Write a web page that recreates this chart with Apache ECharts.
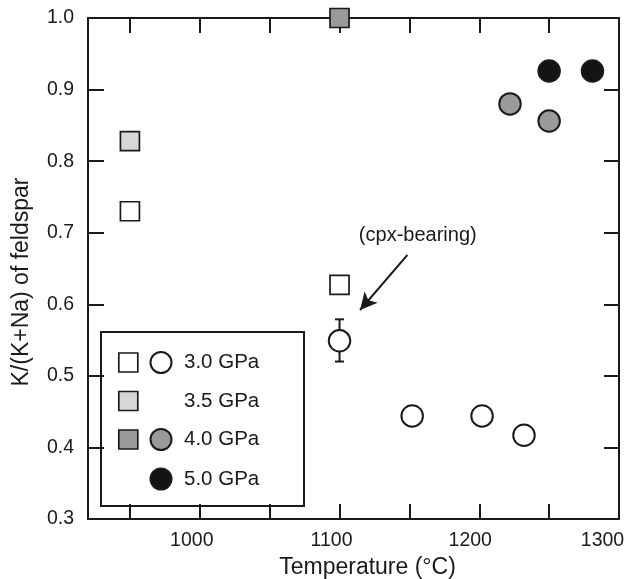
<!DOCTYPE html>
<html>
<head>
<meta charset="utf-8">
<script src="https://cdn.jsdelivr.net/npm/echarts@6/dist/echarts.min.js"></script>
<style>
  html, body { margin: 0; padding: 0; background: #fff; }
  #chart { width: 628px; height: 579px; }
</style>
</head>
<body>
<div id="chart"></div>
<script>
// Feldspar K/(K+Na) versus run temperature, by pressure
const tempTicks = [950, 1000, 1050, 1100, 1150, 1200, 1250, 1300];
const tempLabels = [1000, 1100, 1200, 1300];

// squares
const sq30 = [[950, 0.730], [1100, 0.627]];
const sq35 = [[950, 0.828]];
const sq40 = [[1100, 1.000]];
// circles
const ci30 = [[1100, 0.549], [1152, 0.444], [1202, 0.444], [1232, 0.417]];
const ci40 = [[1222, 0.880], [1250, 0.856]];
const ci50 = [[1250, 0.926], [1281, 0.926]];
// error bar: [temperature, low, high]
const errBars = [[1100, 0.520, 0.579]];

// annotation arrow (data coordinates): from, to
const arrowFrom = [1148.6, 0.669];
const arrowTo = [1114.7, 0.592];
const noteText = '(cpx-bearing)';
const notePos = [1156, 0.6955];

const legendRows = [
  { label: '3.0 GPa', square: 'p30', circle: 'p30' },
  { label: '3.5 GPa', square: 'p35', circle: null },
  { label: '4.0 GPa', square: 'p40', circle: 'p40' },
  { label: '5.0 GPa', square: null, circle: 'p50' }
];

const fill = { p30: '#ffffff', p35: '#d6d8d7', p40: '#9a9a9a', p50: '#141414' };
const ink = '#1a1a1a';
const FONT = 'Liberation Sans, Arial, Helvetica, sans-serif';

const chart = echarts.init(document.getElementById('chart'), null, { renderer: 'canvas' });

const frameLine = { show: true, onZero: false, lineStyle: { color: ink, width: 2 } };
const innerTick = { show: true, inside: true, length: 15, lineStyle: { color: ink, width: 2 } };

function squareSeries(name, data, color) {
  return {
    name, type: 'scatter', data, clip: false, z: 4,
    symbol: 'rect', symbolSize: 19,
    itemStyle: { color, borderColor: ink, borderWidth: 1.7, opacity: 1 }
  };
}
function circleSeries(name, data, color, extra) {
  return Object.assign({
    name, type: 'scatter', data, clip: false, z: 4,
    symbol: 'circle', symbolSize: 21.5,
    itemStyle: { color, borderColor: ink, borderWidth: 2, opacity: 1 }
  }, extra || {});
}

// temperature labels sit a little left of their ticks; the last one is kept inside the canvas
function tempLabel(v) {
  if (v === 1300) return '{e|' + v + '}';
  if (v === 1200) return '{m|' + v + '}';
  return '{n|' + v + '}';
}

const option = {
  animation: false,
  backgroundColor: '#ffffff',
  grid: { left: 88, right: 9, top: 18, bottom: 60, containLabel: false, outerBoundsMode: 'none' },
  xAxis: [
    {
      type: 'value', position: 'bottom', min: 920, max: 1300,
      axisLine: frameLine,
      axisTick: Object.assign({}, innerTick, { customValues: tempTicks }),
      axisLabel: {
        customValues: tempLabels, color: ink, fontSize: 19.5, fontFamily: FONT,
        margin: 12, formatter: tempLabel,
        rich: {
          n: { color: ink, fontSize: 19.5, fontFamily: FONT, padding: [0, 16, 0, 0] },
          m: { color: ink, fontSize: 19.5, fontFamily: FONT, padding: [0, 18, 0, 0] },
          e: { color: ink, fontSize: 19.5, fontFamily: FONT, padding: [0, 33, 0, 0] }
        }
      },
      splitLine: { show: false },
      name: 'Temperature (°C)', nameLocation: 'middle', nameGap: 35,
      nameTextStyle: { color: ink, fontSize: 23, fontFamily: FONT, padding: [0, 0, 0, 28] }
    },
    {
      type: 'value', position: 'top', min: 920, max: 1300,
      axisLine: frameLine,
      axisTick: Object.assign({}, innerTick, { customValues: tempTicks }),
      axisLabel: { show: false },
      splitLine: { show: false }
    }
  ],
  yAxis: [
    {
      type: 'value', position: 'left', min: 0.3, max: 1.0, interval: 0.1,
      axisLine: frameLine,
      axisTick: Object.assign({}, innerTick, { length: 16 }),
      axisLabel: {
        color: ink, fontSize: 19.5, fontFamily: FONT, margin: 14,
        formatter: v => v.toFixed(1)
      },
      splitLine: { show: false },
      name: 'K/(K+Na) of feldspar', nameLocation: 'middle', nameGap: 55, nameRotate: 90,
      nameTextStyle: { color: ink, fontSize: 23, fontFamily: FONT, padding: [0, 27, 0, 0] }
    },
    {
      type: 'value', position: 'right', min: 0.3, max: 1.0, interval: 0.1,
      axisLine: frameLine,
      axisTick: innerTick,
      axisLabel: { show: false },
      splitLine: { show: false }
    }
  ],
  series: [
    {
      name: 'error', type: 'custom', data: errBars, z: 3,
      renderItem(params, api) {
        const x = api.value(0);
        const top = api.coord([x, api.value(2)]);
        const bot = api.coord([x, api.value(1)]);
        const hw = 4.5;
        const style = { stroke: ink, lineWidth: 2 };
        return {
          type: 'group',
          children: [
            { type: 'line', shape: { x1: top[0], y1: top[1], x2: bot[0], y2: bot[1] }, style },
            { type: 'line', shape: { x1: top[0] - hw, y1: top[1], x2: top[0] + hw, y2: top[1] }, style },
            { type: 'line', shape: { x1: bot[0] - hw, y1: bot[1], x2: bot[0] + hw, y2: bot[1] }, style }
          ]
        };
      }
    },
    squareSeries('3.0 GPa', sq30, fill.p30),
    squareSeries('3.5 GPa', sq35, fill.p35),
    squareSeries('4.0 GPa', sq40, fill.p40),
    circleSeries('3.0 GPa', ci30, fill.p30, {
      markLine: {
        silent: true, animation: false,
        symbol: ['none', 'arrow'], symbolSize: [13, 17],
        lineStyle: { color: ink, width: 2, type: 'solid' },
        label: { show: false },
        data: [[
          { coord: arrowFrom, symbol: 'none' },
          { coord: arrowTo, symbol: 'arrow', symbolSize: [13, 17] }
        ]]
      },
      markPoint: {
        silent: true, animation: false,
        symbol: 'circle', symbolSize: 0,
        label: {
          show: true, position: 'inside', formatter: noteText,
          color: ink, fontSize: 20, fontFamily: FONT
        },
        data: [{ coord: notePos }]
      }
    }),
    circleSeries('4.0 GPa', ci40, fill.p40),
    circleSeries('5.0 GPa', ci50, fill.p50)
  ]
};

// legend panel: one row per pressure, square and/or circle key
const box = { x: 101, y: 332, w: 203, h: 174 };
const rowY = [362.5, 401, 439.5, 479];
const squareX = 128.3, circleX = 161, textX = 184;
const legendChildren = [{
  type: 'rect',
  shape: { x: box.x, y: box.y, width: box.w, height: box.h },
  style: { fill: '#ffffff', stroke: ink, lineWidth: 2 }
}];
legendRows.forEach((row, i) => {
  const cy = rowY[i];
  if (row.square) {
    legendChildren.push({
      type: 'rect',
      shape: { x: squareX - 9.5, y: cy - 9.5, width: 19, height: 19 },
      style: { fill: fill[row.square], stroke: ink, lineWidth: 1.7 }
    });
  }
  if (row.circle) {
    legendChildren.push({
      type: 'circle',
      shape: { cx: circleX, cy: cy, r: 10.5 },
      style: { fill: fill[row.circle], stroke: ink, lineWidth: 2 }
    });
  }
  legendChildren.push({
    type: 'text',
    style: {
      x: textX, y: cy, text: row.label, fill: ink,
      font: '20.5px ' + FONT, textAlign: 'left', textVerticalAlign: 'middle'
    }
  });
});
option.graphic = [{ type: 'group', z: 100, silent: true, children: legendChildren }];

chart.setOption(option);
</script>
</body>
</html>
